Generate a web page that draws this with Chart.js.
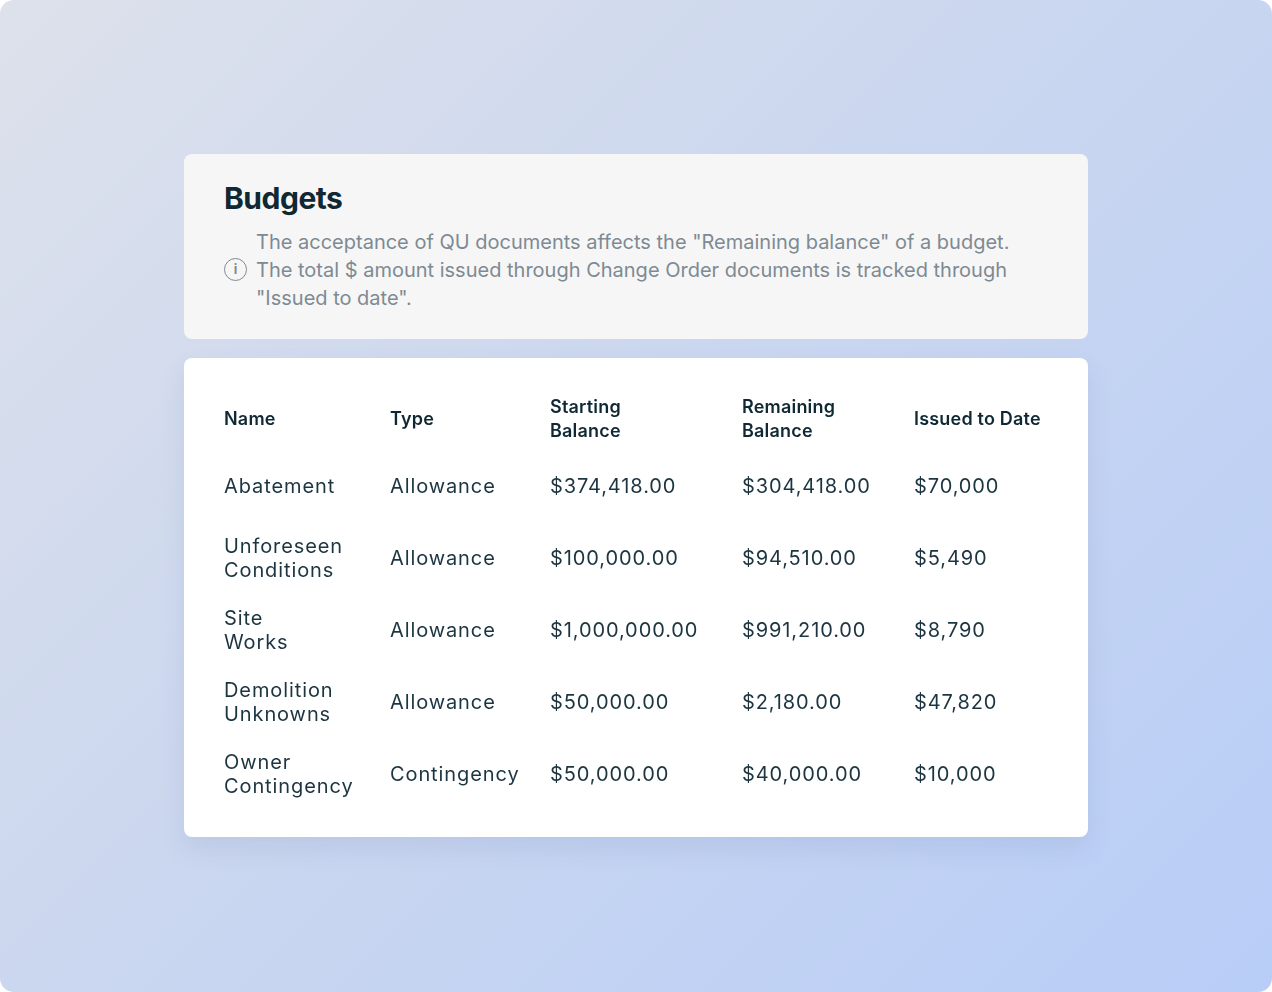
<!DOCTYPE html>
<html>
<head>
<meta charset="utf-8">
<script src="https://cdn.jsdelivr.net/npm/chart.js@4"></script>
<style>
  html, body { margin: 0; padding: 0; width: 1272px; height: 992px; overflow: hidden; background: #fff; }
  #page {
    position: absolute; left: 0; top: 0; width: 1272px; height: 992px; border-radius: 14px;
    background: linear-gradient(135deg, #dde1eb 0%, #cbd7ef 45%, #b8cdf7 100%);
    font-family: Inter, "Noto Sans", sans-serif;
  }
  #head {
    position: absolute; left: 184px; top: 154px; width: 904px; height: 185px;
    background: #f6f6f6; border-radius: 8px;
  }
  #head h1 { position: absolute; left: 40px; top: 26px; margin: 0; font-size: 30px; font-weight: 700; color: #0f2833; letter-spacing: -0.5px; }
  #head p { position: absolute; left: 72px; top: 74px; margin: 0; font-size: 20px; line-height: 28px; color: #7e8a93; width: 770px; letter-spacing: 0px; }
  #icon { position: absolute; left: 40px; top: 104px; width: 23px; height: 23px; border: 1.8px solid #7e8a93; border-radius: 50%; box-sizing: border-box; color: #7e8a93; font-size: 13px; font-weight: 700; text-align: center; line-height: 20px; }
  #card {
    position: absolute; left: 184px; top: 358px; width: 904px; height: 479px;
    background: #fff; border-radius: 8px; box-shadow: 0 12px 24px rgba(90, 110, 160, 0.12);
  }
</style>
</head>
<body>
<div id="page">
  <div id="head">
    <h1>Budgets</h1>
    <div id="icon">i</div>
    <p>The acceptance of QU documents affects the "Remaining balance" of a budget. The total $ amount issued through Change Order documents is tracked through "Issued to date".</p>
  </div>
  <div id="card"><canvas id="myChart" width="904" height="479"></canvas></div>
</div>
<script>
var headers = ["Name", "Type", "Starting\nBalance", "Remaining\nBalance", "Issued to Date"];
var names = ["Abatement", "Unforeseen\nConditions", "Site\nWorks", "Demolition\nUnknowns", "Owner\nContingency"];
var types = ["Allowance", "Allowance", "Allowance", "Allowance", "Contingency"];
var startingBalance = ["$374,418.00", "$100,000.00", "$1,000,000.00", "$50,000.00", "$50,000.00"];
var remainingBalance = ["$304,418.00", "$94,510.00", "$991,210.00", "$2,180.00", "$40,000.00"];
var issuedToDate = ["$70,000", "$5,490", "$8,790", "$47,820", "$10,000"];

var columns = [names, types, startingBalance, remainingBalance, issuedToDate];
// layout: left edge of each column (x units) and header row position (y units)
var colStart = [0, 166, 326, 518, 690];
var headerRow = 0.07;

var tablePlugin = {
  id: "tableText",
  afterDraw: function(chart) {
    var ctx = chart.ctx;
    var xs = chart.scales.x, ys = chart.scales.y;
    ctx.save();
    ctx.textAlign = "left";
    ctx.textBaseline = "middle";
    function cell(text, c, r, font, color, spacing) {
      var lines = text.split("\n");
      var x = xs.getPixelForValue(colStart[c]);
      var y = ys.getPixelForValue(r);
      ctx.font = font;
      ctx.fillStyle = color;
      ctx.letterSpacing = spacing;
      for (var k = 0; k < lines.length; k++) {
        ctx.fillText(lines[k], x, y + (k - (lines.length - 1) / 2) * 24);
      }
    }
    for (var c = 0; c < headers.length; c++) {
      cell(headers[c], c, headerRow, "600 18px Inter", "#0f2833", "0.2px");
    }
    for (var r = 0; r < names.length; r++) {
      for (var c2 = 0; c2 < columns.length; c2++) {
        cell(columns[c2][r], c2, r + 1, "400 20px Inter", "#1c3540", "0.9px");
      }
    }
    ctx.restore();
  }
};

var ctx = document.getElementById("myChart").getContext("2d");
var chart = new Chart(ctx, {
  type: "scatter",
  data: { datasets: [{ data: [] }] },
  options: {
    responsive: false,
    animation: false,
    layout: { padding: { top: 71, bottom: 4, left: 40, right: 40 } },
    plugins: { legend: { display: false }, tooltip: { enabled: false } },
    scales: {
      x: { type: "linear", min: 0, max: 824, display: false },
      y: { type: "linear", min: 0.2, max: 5.8, reverse: true, display: false }
    }
  },
  plugins: [tablePlugin]
});
</script>
</body>
</html>
